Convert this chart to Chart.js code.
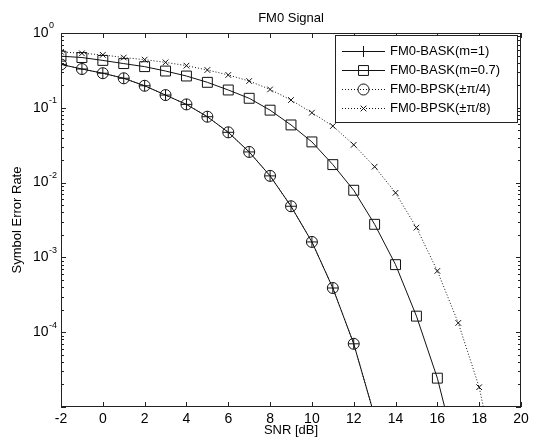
<!DOCTYPE html>
<html>
<head>
<meta charset="utf-8">
<script src="https://cdn.jsdelivr.net/npm/chart.js@4/dist/chart.umd.min.js"></script>
<style>
  html, body { margin: 0; padding: 0; background: #fff; }
  #wrap { width: 538px; height: 442px; }
</style>
</head>
<body>
<div id="wrap"><canvas id="ser-chart"></canvas></div>
<script>
// values
const snrA = [-2, -1, 0, 1, 2, 3, 4, 5, 6, 7, 8, 9, 10, 11, 12, 13];
const snrB = [-2, -1, 0, 1, 2, 3, 4, 5, 6, 7, 8, 9, 10, 11, 12, 13, 14, 15, 16, 17];
const snrC = [-2, -1, 0, 1, 2, 3, 4, 5, 6, 7, 8, 9, 10, 11, 12, 13, 14, 15, 16, 17, 18, 19];

const baskM1 = [0.38, 0.33, 0.29, 0.248, 0.197, 0.148, 0.111, 0.076, 0.047, 0.0257, 0.0123, 0.00483, 0.00161, 0.00039, 0.00007, 0.0000075];
const bpskPi4 = [0.38, 0.33, 0.29, 0.248, 0.197, 0.148, 0.111, 0.076, 0.047, 0.0257, 0.0123, 0.00483, 0.00161, 0.00039, 0.00007, 0.0000075];
const baskM07 = [0.49, 0.47, 0.43, 0.39, 0.355, 0.31, 0.266, 0.219, 0.173, 0.134, 0.093, 0.059, 0.035, 0.0174, 0.0079, 0.00277, 0.0008, 0.000164, 0.0000243, 0.0000019];
const bpskPi8 = [0.56, 0.535, 0.51, 0.47, 0.44, 0.405, 0.366, 0.32, 0.275, 0.228, 0.176, 0.127, 0.086, 0.057, 0.032, 0.0163, 0.0073, 0.0025, 0.00066, 0.000133, 0.0000184, 0.00000087];

const seriesLabels = ['FM0-BASK(m=1)', 'FM0-BASK(m=0.7)', 'FM0-BPSK(\u00b1\u03c0/4)', 'FM0-BPSK(\u00b1\u03c0/8)'];
const xTicks = [-2, 0, 2, 4, 6, 8, 10, 12, 14, 16, 18, 20];
const yExponents = [0, -1, -2, -3, -4, -5];
const yMin = 1e-5, yMax = 1;

const FONT = '"Liberation Sans", Arial, sans-serif';
const NONE = 'rgba(0,0,0,0)';

function pts(xs, ys) {
  return xs.map((x, i) => ({ x: x, y: ys[i] }));
}

function radiusFor(r) {
  return ctx => (ctx.raw && ctx.raw.y < yMin) ? 0 : r;
}

const datasets = [
  { label: seriesLabels[0], data: pts(snrA, baskM1), pointStyle: 'cross', r: 5.5, dash: [] },
  { label: seriesLabels[1], data: pts(snrB, baskM07), pointStyle: 'rect', r: 7, dash: [] },
  { label: seriesLabels[2], data: pts(snrA, bpskPi4), pointStyle: 'circle', r: 5.5, dash: [1, 2] },
  { label: seriesLabels[3], data: pts(snrC, bpskPi8), pointStyle: 'crossRot', r: 4, dash: [1, 2] }
].map(d => ({
  label: d.label,
  data: d.data,
  borderColor: '#111',
  backgroundColor: NONE,
  borderWidth: 1,
  borderDash: d.dash,
  pointStyle: d.pointStyle,
  pointRadius: radiusFor(d.r),
  pointHoverRadius: radiusFor(d.r),
  pointBorderColor: '#111',
  pointBackgroundColor: NONE,
  pointBorderWidth: 1,
  fill: false,
  tension: 0,
  _r: d.r
}));

// box, inward ticks, y labels with exponents, title and legend
const matlabAxes = {
  id: 'matlabAxes',
  afterDatasetsDraw(chart) {
    const { ctx, chartArea: a, scales: { x, y } } = chart;
    ctx.save();
    ctx.strokeStyle = '#222';
    ctx.lineWidth = 1;
    ctx.setLineDash([]);
    ctx.strokeRect(a.left + 0.5, a.top + 0.5, a.right - a.left - 1, a.bottom - a.top - 1);

    ctx.beginPath();
    xTicks.forEach(v => {
      const px = Math.round(x.getPixelForValue(v)) + 0.5;
      ctx.moveTo(px, a.bottom); ctx.lineTo(px, a.bottom - 5);
      ctx.moveTo(px, a.top); ctx.lineTo(px, a.top + 5);
    });
    yExponents.forEach(e => {
      const py = Math.round(y.getPixelForValue(Math.pow(10, e))) + 0.5;
      ctx.moveTo(a.left, py); ctx.lineTo(a.left + 5, py);
      ctx.moveTo(a.right, py); ctx.lineTo(a.right - 5, py);
      if (e > -5) {
        for (let k = 2; k <= 9; k++) {
          const pm = Math.round(y.getPixelForValue(k * Math.pow(10, e - 1))) + 0.5;
          ctx.moveTo(a.left, pm); ctx.lineTo(a.left + 3, pm);
          ctx.moveTo(a.right, pm); ctx.lineTo(a.right - 3, pm);
        }
      }
    });
    ctx.stroke();

    // y tick labels: 10 with superscript exponent
    ctx.fillStyle = '#000';
    ctx.textBaseline = 'middle';
    ctx.textAlign = 'left';
    yExponents.forEach(e => {
      if (e === -5) return;
      const py = y.getPixelForValue(Math.pow(10, e));
      ctx.font = '14px ' + FONT;
      ctx.fillText('10', 33, py);
      const w = ctx.measureText('10').width;
      ctx.font = '9px ' + FONT;
      ctx.fillText(e === 0 ? '0' : '-' + (-e), 33 + w + 0.5, py - 7);
    });

    // title
    ctx.font = '13px ' + FONT;
    ctx.textAlign = 'center';
    ctx.fillText('FM0 Signal', (a.left + a.right) / 2, 18);

    // legend
    const lx = 335, ly = 35, lw = 182, lh = 87;
    ctx.fillStyle = '#fff';
    ctx.fillRect(lx, ly, lw, lh);
    ctx.strokeStyle = '#222';
    ctx.strokeRect(lx + 0.5, ly + 0.5, lw, lh);
    chart.data.datasets.forEach((ds, i) => {
      const ry = 51 + 19 * i + 0.5;
      ctx.strokeStyle = '#111';
      ctx.lineWidth = 1;
      ctx.setLineDash(ds.borderDash);
      ctx.beginPath();
      ctx.moveTo(342, ry); ctx.lineTo(385, ry);
      ctx.stroke();
      ctx.setLineDash([]);
      ctx.fillStyle = NONE;
      Chart.helpers.drawPoint(ctx, { pointStyle: ds.pointStyle, radius: ds._r, rotation: 0, borderWidth: 1 }, 363.5, ry);
      ctx.fillStyle = '#000';
      ctx.font = '13px ' + FONT;
      ctx.textAlign = 'left';
      ctx.textBaseline = 'middle';
      ctx.fillText(ds.label, 390, ry);
    });
    ctx.restore();
  }
};

new Chart(document.getElementById('ser-chart'), {
  type: 'line',
  data: { datasets: datasets },
  options: {
    responsive: true,
    maintainAspectRatio: false,
    animation: false,
    events: [],
    layout: { padding: { top: 33, right: 17, left: 0, bottom: 0 } },
    plugins: { legend: { display: false }, title: { display: false }, tooltip: { enabled: false } },
    scales: {
      x: {
        type: 'linear',
        min: -2,
        max: 20,
        afterFit: s => { s.height = 35; },
        afterBuildTicks: s => { s.ticks = xTicks.map(v => ({ value: v })); },
        grid: { display: false, drawTicks: false },
        border: { display: false },
        ticks: { color: '#000', padding: 4, maxRotation: 0, font: { family: FONT, size: 14 } },
        title: { display: true, text: 'SNR [dB]', color: '#000', padding: { top: 0, bottom: 4 }, font: { family: FONT, size: 13 } }
      },
      y: {
        type: 'logarithmic',
        min: yMin,
        max: yMax,
        afterFit: s => { s.width = 61; },
        grid: { display: false, drawTicks: false },
        border: { display: false },
        ticks: { display: false },
        title: { display: true, text: 'Symbol Error Rate', color: '#000', padding: { top: 10, bottom: 0 }, font: { family: FONT, size: 13 } }
      }
    }
  },
  plugins: [matlabAxes]
});
</script>
</body>
</html>
